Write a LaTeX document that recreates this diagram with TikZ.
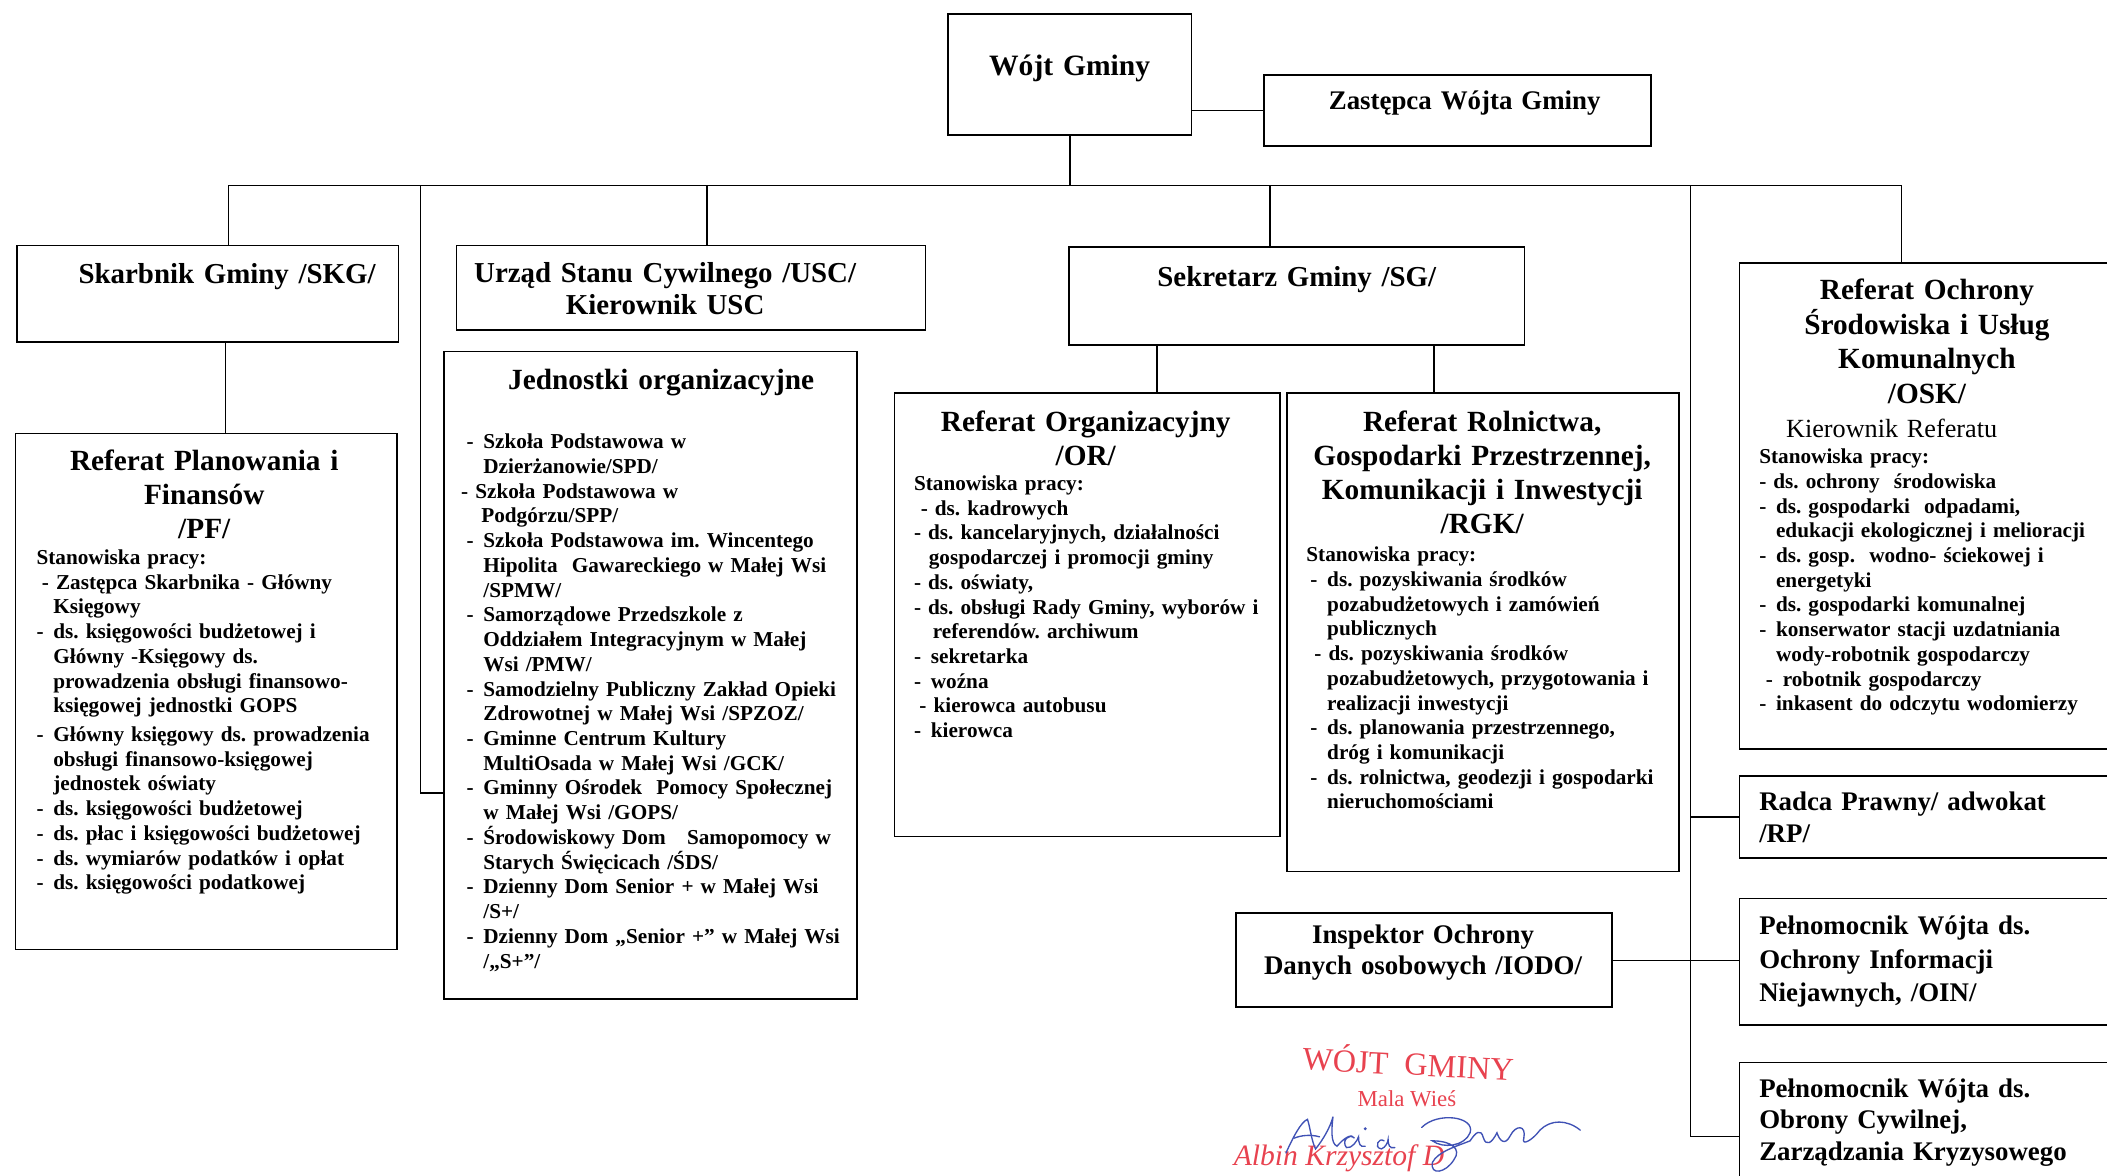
\documentclass[tikz,border=0pt]{standalone}
\usepackage{fontspec}
\setmainfont{Liberation Serif}
\usetikzlibrary{calc}
\definecolor{stampred}{HTML}{E8424F}
\definecolor{inkblue}{HTML}{3F51B5}
\def\dsh{\makebox[12.5pt][l]{-}}
\def\ind{\hspace*{12.5pt}}
\frenchspacing

\begin{document}
\begin{tikzpicture}[x=1pt,y=-1pt,
	box/.style={draw, line width=1.2pt, inner sep=0pt, anchor=north west},
	link/.style={line width=1.1pt},
	lbl/.style={font=\fontsize{21.5}{24}\selectfont\bfseries, anchor=base, align=center, text width=360, inner sep=0pt},
	lbs/.style={font=\fontsize{20}{23.5}\selectfont\bfseries, anchor=base west, align=left, text width=300, inner sep=0pt},
	ttl/.style={font=\fontsize{21.8}{25.3}\selectfont\bfseries, anchor=base, align=center, text width=300, inner sep=0pt},
	lst/.style={font=\fontsize{15.8}{18.4}\selectfont\bfseries, anchor=base west, align=left, text width=330, inner sep=0pt},
	sig/.style={inkblue, line width=1pt, line cap=round}]
			%%%%% START %%%%%
			\useasboundingbox (0,0) rectangle (1568,875);
			\fill[white] (0,0) rectangle (1568,875);
			\clip (0,0) rectangle (1568,875);
			
			% boxes
			\node[box, minimum width=181, minimum height=90] (wojt) at (705,10) {};
			\node[box, minimum width=288, minimum height=53] (zast) at (940,55) {};
			\node[box, minimum width=284, minimum height=72] (skg) at (12,182) {};
			\node[box, minimum width=349, minimum height=63] (usc) at (339,182) {};
			\node[box, minimum width=339, minimum height=73] (sg) at (795,183) {};
			\node[box, minimum width=284, minimum height=384] (pf) at (11,322) {};
			\node[box, minimum width=307, minimum height=482] (jo) at (330,261) {};
			\node[box, minimum width=287, minimum height=330] (or) at (665,292) {};
			\node[box, minimum width=292, minimum height=356] (rgk) at (957,292) {};
			\node[box, minimum width=300, minimum height=362] (osk) at (1294,195) {};
			\node[box, minimum width=300, minimum height=61] (rp) at (1294,577) {};
			\node[box, minimum width=280, minimum height=70] (iodo) at (919,679) {};
			\node[box, minimum width=300, minimum height=94] (oin) at (1294,668) {};
			\node[box, minimum width=300, minimum height=110] (oc) at (1294,790) {};
			
			% connectors
			\coordinate (bl) at (170,138);
			\coordinate (br) at (1415,138);
			\coordinate (bjo) at (313,138);
			\coordinate (busc) at (526,138);
			\coordinate (bsg) at (945,138);
			\coordinate (brt) at (1258,138);
			\coordinate (skd) at ($(skg.south west)+(156,0)$);
			\coordinate (sgl) at ($(sg.south west)+(66,0)$);
			\coordinate (sgr) at ($(sg.south west)+(272,0)$);
			\draw[link] (zast.west) -- (zast.west -| wojt.east);
			\draw[link] (wojt.south) -- (wojt.south |- bl);
			\draw[link] (bl) -- (br);
			\draw[link] (bl) -- (bl |- skg.north);
			\draw[link] (bjo) |- ($(jo.north west)+(0,329)$);
			\draw[link] (busc) -- (busc |- usc.north);
			\draw[link] (bsg) -- (bsg |- sg.north);
			\draw[link] (br) -- (br |- osk.north);
			\draw[link] (brt) |- (oc.west);
			\draw[link] (rp.west) -- (rp.west -| brt);
			\draw[link] (iodo.east) -- (iodo.east -| oin.west);
			\draw[link] (skd) -- (skd |- pf.north);
			\draw[link] (sgl) -- (sgl |- or.north);
			\draw[link] (sgr) -- (sgr |- rgk.north);
			
			% labels
			\node[lbl, font=\fontsize{22}{24}\selectfont\bfseries] (wojtt) at (796,56.5) {Wójt Gminy};
			\node[lbl, font=\fontsize{20}{24}\selectfont\bfseries] (zastt) at (1090,81.5) {Zastępca Wójta Gminy};
			\node[lbl] (skgt) at (169,211) {Skarbnik Gminy /SKG/};
			\node[lbl] (usct) at (495,210) {Urząd Stanu Cywilnego /USC/\\Kierownik USC};
			\node[lbl] (sgt) at (965,213) {Sekretarz Gminy /SG/};
			
			\node[ttl] (pft) at (152,350.5) {Referat Planowania i\\Finansów\\/PF/};
			\node[lst] (pfs) at (27,420) {Stanowiska pracy:\\
				\hspace*{4pt}- Zastępca Skarbnika - Główny\\
				\ind Księgowy\\
				\dsh ds. księgowości budżetowej i\\
				\ind Główny -Księgowy ds.\\
				\ind prowadzenia obsługi finansowo-\\
				\ind księgowej jednostki GOPS\\[3pt]
				\dsh Główny księgowy ds. prowadzenia\\
				\ind obsługi finansowo-księgowej\\
				\ind jednostek oświaty\\
				\dsh ds. księgowości budżetowej\\
				\dsh ds. płac i księgowości budżetowej\\
				\dsh ds. wymiarów podatków i opłat\\
				\dsh ds. księgowości podatkowej};
			
			\node[ttl] (jot) at (492,289.5) {Jednostki organizacyjne};
			\node[lst] (jos) at (347,334) {\dsh Szkoła Podstawowa w\\
				\ind Dzierżanowie/SPD/\\
				\hspace*{-4pt}- Szkoła Podstawowa w\\
				\hspace*{11pt}Podgórzu/SPP/\\
				\dsh Szkoła Podstawowa im. Wincentego\\
				\ind Hipolita\ \ Gawareckiego w Małej Wsi\\
				\ind /SPMW/\\
				\dsh Samorządowe Przedszkole z\\
				\ind Oddziałem Integracyjnym w Małej\\
				\ind Wsi /PMW/\\
				\dsh Samodzielny Publiczny Zakład Opieki\\
				\ind Zdrowotnej w Małej Wsi /SPZOZ/\\
				\dsh Gminne Centrum Kultury\\
				\ind MultiOsada w Małej Wsi /GCK/\\
				\dsh Gminny Ośrodek\ \ Pomocy Społecznej\\
				\ind w Małej Wsi /GOPS/\\
				\dsh Środowiskowy Dom\ \ \ Samopomocy w\\
				\ind Starych Święcicach /ŚDS/\\
				\dsh Dzienny Dom Senior + w Małej Wsi\\
				\ind /S+/\\
				\dsh Dzienny Dom „Senior +” w Małej Wsi\\
				\ind /„S+”/};
			
			\node[ttl] (ort) at (808,321) {Referat Organizacyjny\\/OR/};
			\node[lst] (ors) at (680,365) {Stanowiska pracy:\\
				\hspace*{5pt}- ds. kadrowych\\
				- ds. kancelaryjnych, działalności\\
				\hspace*{11pt}gospodarczej i promocji gminy\\
				- ds. oświaty,\\
				- ds. obsługi Rady Gminy, wyborów i\\
				\hspace*{14pt}referendów. archiwum\\
				\dsh sekretarka\\
				\dsh woźna\\
				\hspace*{4pt}- kierowca autobusu\\
				\dsh kierowca};
			
			\node[ttl] (rgkt) at (1103,321) {Referat Rolnictwa,\\Gospodarki Przestrzennej,\\Komunikacji i Inwestycji\\/RGK/};
			\node[lst] (rgks) at (975,418) {\hspace*{-3pt}Stanowiska pracy:\\
				\dsh ds. pozyskiwania środków\\
				\ind pozabudżetowych i zamówień\\
				\ind publicznych\\
				\hspace*{3pt}- ds. pozyskiwania środków\\
				\ind pozabudżetowych, przygotowania i\\
				\ind realizacji inwestycji\\
				\dsh ds. planowania przestrzennego,\\
				\ind dróg i komunikacji\\
				\dsh ds. rolnictwa, geodezji i gospodarki\\
				\ind nieruchomościami};
			
			\node[ttl, font=\fontsize{21.8}{25.7}\selectfont\bfseries] (oskt) at (1434,223) {Referat Ochrony\\Środowiska i Usług\\Komunalnych\\/OSK/\hspace*{18pt}};
			\node[lbs, font=\fontsize{19.5}{23}\selectfont] (oskk) at (1329,325.5) {Kierownik Referatu};
			\node[lst] (osks) at (1309,345) {Stanowiska pracy:\\
				- ds. ochrony\ \ środowiska\\
				\dsh ds. gospodarki\ \ odpadami,\\
				\ind edukacji ekologicznej i melioracji\\
				\dsh ds. gosp.\ \ wodno- ściekowej i\\
				\ind energetyki\\
				\dsh ds. gospodarki komunalnej\\
				\dsh konserwator stacji uzdatniania\\
				\ind wody-robotnik gospodarczy\\
				\hspace*{5pt}\dsh robotnik gospodarczy\\
				\dsh inkasent do odczytu wodomierzy};
			
			\node[lbs] (rpt) at (1309,603.5) {Radca Prawny/ adwokat\\/RP/};
			\node[lbs, font=\fontsize{20}{25}\selectfont\bfseries] (oint) at (1309,695.5) {Pełnomocnik Wójta ds.\\Ochrony Informacji\\Niejawnych, /OIN/};
			\node[lbs] (oct) at (1309,816.5) {Pełnomocnik Wójta ds.\\Obrony Cywilnej,\\Zarządzania Kryzysowego};
			\node[lbl, font=\fontsize{20}{23}\selectfont\bfseries] (iodot) at (1059,702.5) {Inspektor Ochrony\\Danych osobowych /IODO/};
			
			% stamp and signature
			\node[stampred, font=\fontsize{24}{25}\selectfont, inner sep=0pt, rotate=-3] (st1) at (1048,790) {WÓJT\ \ GMINY};
			\node[stampred, font=\fontsize{17}{18}\selectfont, inner sep=0pt] (st2) at (1047,818) {Mala Wieś};
			\node[stampred, font=\fontsize{22}{23}\selectfont\itshape, inner sep=0pt, anchor=west] (st3) at (918,862) {Albin Krzysztof D};
			\draw[sig] (957,858) .. controls (962,847) and (968,835) .. (973,833) .. controls (975,839) and (976,849) .. (979,855)
				.. controls (984,849) and (990,839) .. (992,831) .. controls (991,839) and (990,851) .. (995,853)
				.. controls (1000,847) and (1006,843) .. (1008,847) .. controls (1004,843) and (998,849) .. (1002,854)
				.. controls (1006,855) and (1010,849) .. (1011,846) .. controls (1011,851) and (1012,854) .. (1016,853);
			\draw[sig] (963,847) .. controls (968,845) and (975,844) .. (982,846);
			\fill[inkblue] (1016,840) circle (1.2);
			\draw[sig] (1030,849) .. controls (1026,846) and (1022,854) .. (1028,855) .. controls (1031,854) and (1033,850) .. (1033,848)
				.. controls (1033,852) and (1034,855) .. (1038,854);
			\draw[sig] (1058,839) .. controls (1070,827) and (1098,831) .. (1094,843) .. controls (1090,853) and (1074,855) .. (1066,849)
				.. controls (1080,849) and (1088,855) .. (1082,863) .. controls (1076,873) and (1064,875) .. (1066,865)
				.. controls (1070,857) and (1084,853) .. (1094,849) .. controls (1098,843) and (1102,839) .. (1104,847)
				.. controls (1106,853) and (1110,851) .. (1114,843) .. controls (1116,849) and (1120,853) .. (1124,845)
				.. controls (1128,837) and (1136,837) .. (1134,847) .. controls (1132,853) and (1140,849) .. (1146,841)
				.. controls (1154,833) and (1166,833) .. (1176,841);
			
			%%%%% END %%%%%
\end{tikzpicture}
\end{document}
